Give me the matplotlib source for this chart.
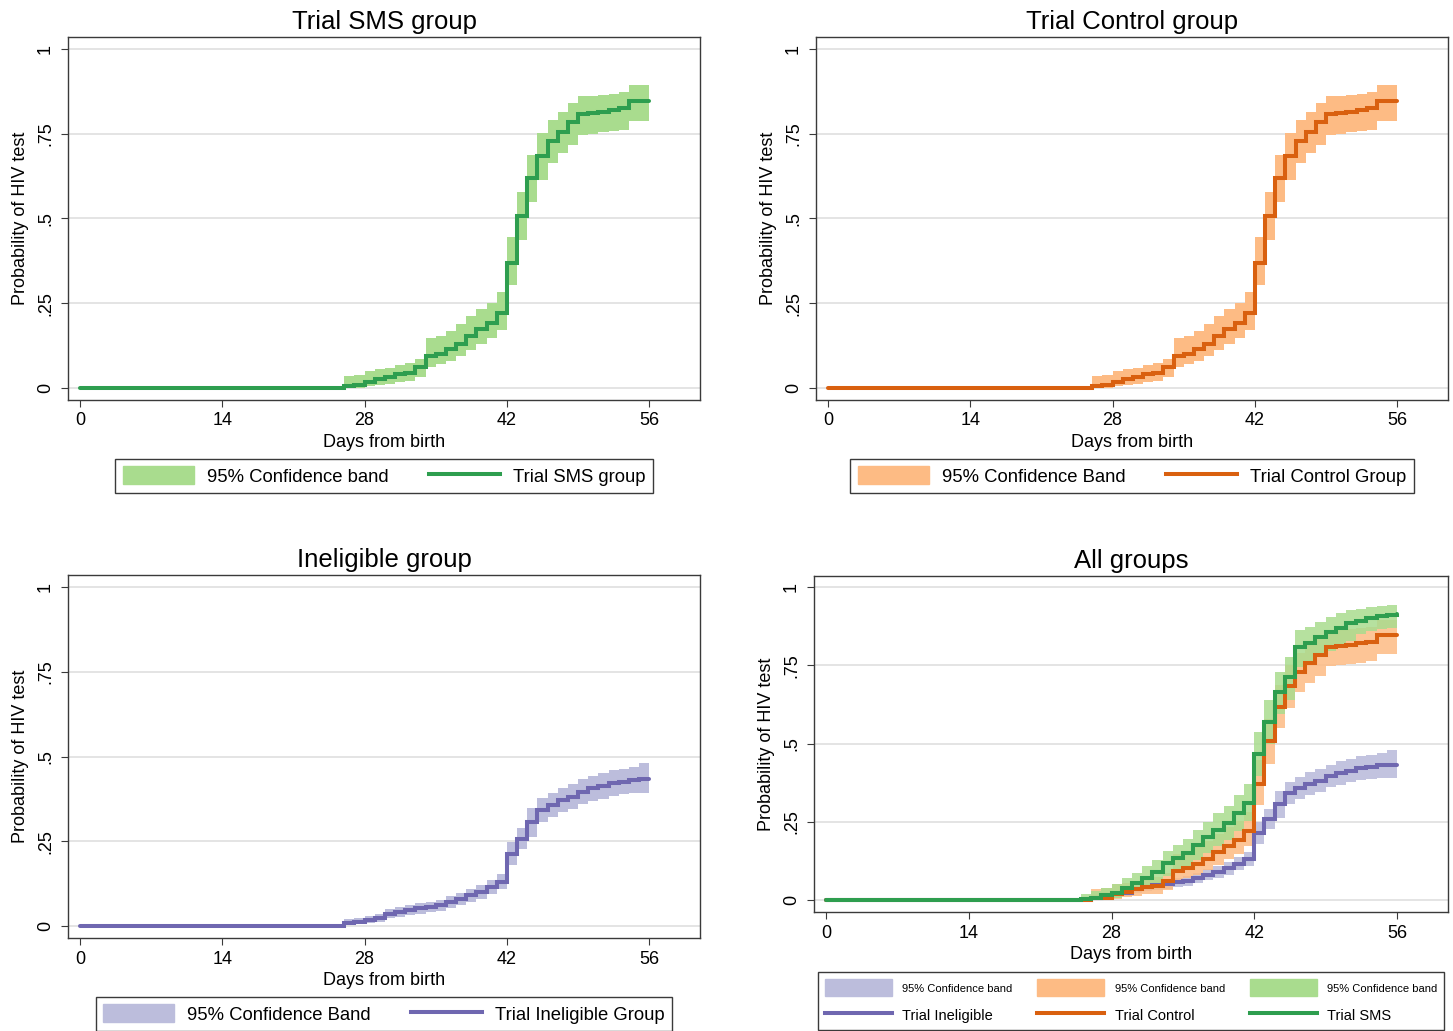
import matplotlib
matplotlib.use("Agg")
import matplotlib.pyplot as plt
from matplotlib.patches import Patch
from matplotlib.lines import Line2D

plt.rcParams["font.family"] = ["Liberation Sans", "DejaVu Sans"]

# Days from birth (step positions), first point is birth
DAYS = [0] + list(range(25, 57))

# Trial control group (also shown in the "Trial SMS group" panel)
CONTROL_EST = [0, 0, 0.006, 0.008, 0.019, 0.026, 0.034, 0.041, 0.045, 0.061, 0.094,
               0.102, 0.114, 0.131, 0.153, 0.173, 0.193, 0.220, 0.370, 0.507, 0.618,
               0.684, 0.727, 0.756, 0.783, 0.807, 0.812, 0.815, 0.820, 0.825, 0.845,
               0.845, 0.845]
CONTROL_LO = [0, 0, 0.0, 0.0, 0.005, 0.010, 0.013, 0.018, 0.020, 0.032, 0.062,
              0.070, 0.080, 0.095, 0.112, 0.130, 0.148, 0.172, 0.304, 0.436, 0.549,
              0.614, 0.663, 0.692, 0.717, 0.746, 0.750, 0.754, 0.758, 0.762, 0.786,
              0.786, 0.786]
CONTROL_HI = [0, 0, 0.035, 0.038, 0.050, 0.055, 0.060, 0.068, 0.075, 0.085, 0.147,
              0.155, 0.168, 0.188, 0.212, 0.232, 0.252, 0.282, 0.446, 0.579, 0.687,
              0.751, 0.790, 0.815, 0.840, 0.860, 0.862, 0.865, 0.868, 0.872, 0.894,
              0.894, 0.894]

# Trial SMS group (only in the "All groups" panel)
SMS_EST = [0, 0.003, 0.008, 0.016, 0.023, 0.040, 0.055, 0.072, 0.090, 0.117, 0.133,
           0.149, 0.176, 0.200, 0.224, 0.247, 0.277, 0.311, 0.466, 0.570, 0.665,
           0.711, 0.809, 0.822, 0.839, 0.857, 0.870, 0.884, 0.892, 0.900, 0.908,
           0.911, 0.914]
SMS_LO = [0, 0, 0.001, 0.004, 0.007, 0.018, 0.028, 0.040, 0.055, 0.078, 0.092,
          0.105, 0.128, 0.150, 0.172, 0.193, 0.220, 0.252, 0.395, 0.500, 0.595,
          0.640, 0.745, 0.760, 0.778, 0.797, 0.812, 0.828, 0.850, 0.858, 0.865,
          0.868, 0.870]
SMS_HI = [0, 0.020, 0.030, 0.040, 0.050, 0.070, 0.088, 0.108, 0.128, 0.158, 0.176,
          0.195, 0.225, 0.250, 0.277, 0.302, 0.335, 0.372, 0.537, 0.640, 0.730,
          0.775, 0.862, 0.873, 0.888, 0.905, 0.916, 0.928, 0.930, 0.935, 0.940,
          0.942, 0.942]

# Trial ineligible group
INELIG_EST = [0, 0, 0.008, 0.013, 0.018, 0.023, 0.037, 0.042, 0.047, 0.052, 0.057,
              0.061, 0.071, 0.081, 0.091, 0.101, 0.116, 0.130, 0.214, 0.258, 0.308,
              0.342, 0.357, 0.372, 0.381, 0.396, 0.406, 0.413, 0.421, 0.426, 0.430,
              0.433, 0.433]
INELIG_LO = [0, 0, 0.002, 0.005, 0.008, 0.012, 0.024, 0.028, 0.033, 0.037, 0.041,
             0.045, 0.054, 0.063, 0.072, 0.081, 0.095, 0.108, 0.180, 0.228, 0.263,
             0.308, 0.322, 0.336, 0.345, 0.360, 0.369, 0.376, 0.383, 0.388, 0.391,
             0.391, 0.391]
INELIG_HI = [0, 0, 0.020, 0.025, 0.030, 0.035, 0.050, 0.056, 0.062, 0.067, 0.072,
             0.078, 0.088, 0.099, 0.110, 0.121, 0.137, 0.153, 0.249, 0.290, 0.347,
             0.377, 0.392, 0.408, 0.418, 0.433, 0.443, 0.450, 0.459, 0.464, 0.470,
             0.480, 0.480]

XTICKS = [0, 14, 28, 42, 56]
YTICKS = [0, 0.25, 0.5, 0.75, 1]
YTICK_LABELS = ["0", ".25", ".5", ".75", "1"]

GREEN, GREEN_BAND = "#2e9e4f", "#a9dc8e"
ORANGE, ORANGE_BAND = "#d9600f", "#fdbb84"
PURPLE, PURPLE_BAND = "#6f67b0", "#bcbddc"
SPINE = "#3a3a3a"
LW = 2.9

W, H = 1453, 1031
fig = plt.figure(figsize=(W / 100, H / 100), dpi=100)


def add_axes(left, top, right, bottom):
    return fig.add_axes([left / W, 1 - bottom / H, (right - left) / W, (bottom - top) / H])


def style_axes(ax, title, ylim):
    ax.set_xlim(-1.18, 61.0)
    ax.set_ylim(*ylim)
    ax.set_xticks(XTICKS)
    ax.set_yticks(YTICKS)
    ax.set_yticklabels(YTICK_LABELS, rotation=90, va="center")
    ax.grid(axis="y", color="#dcdcdc", lw=1.1)
    ax.set_axisbelow(True)
    for s in ax.spines.values():
        s.set_color(SPINE)
        s.set_linewidth(1)
    ax.tick_params(direction="out", length=5, color=SPINE, labelsize=13, pad=4)
    ax.tick_params(axis="y", pad=5)
    ax.set_title(title, fontsize=18.5, pad=6)
    ax.set_xlabel("Days from birth", fontsize=13, labelpad=3)
    ax.set_ylabel("Probability of HIV test", fontsize=13, labelpad=6)


def draw_band(ax, lo, hi, band_color, alpha=1.0):
    ax.fill_between(DAYS, lo, hi, step="post", color=band_color, lw=0, alpha=alpha)


def draw_line(ax, est, line_color):
    ax.plot(DAYS, est, drawstyle="steps-post", color=line_color, lw=LW,
            solid_capstyle="round", solid_joinstyle="miter")


def panel_legend(handles, labels, cx, top, fontsize=13.3, ncol=2, **kw):
    opts = dict(loc="upper center", bbox_to_anchor=(cx / W, 1 - top / H),
                bbox_transform=fig.transFigure, ncol=ncol, fontsize=fontsize,
                frameon=True, fancybox=False, edgecolor=SPINE, framealpha=1,
                borderpad=0.4, handlelength=3.85, handleheight=1.1,
                handletextpad=0.7, columnspacing=2.2, borderaxespad=0)
    opts.update(kw)
    leg = fig.legend(handles, labels, **opts)
    leg.get_frame().set_linewidth(1)
    return leg


YLIM_TOP = (-0.035, 1.035)
YLIM_ALL = (-0.038, 1.035)

# Top left: Trial SMS group
ax1 = add_axes(68, 37, 700, 400)
draw_band(ax1, CONTROL_LO, CONTROL_HI, GREEN_BAND)
draw_line(ax1, CONTROL_EST, GREEN)
style_axes(ax1, "Trial SMS group", YLIM_TOP)
panel_legend([Patch(color=GREEN_BAND), Line2D([], [], color=GREEN, lw=LW)],
             ["95% Confidence band", "Trial SMS group"], 384, 459)

# Top right: Trial Control group
ax2 = add_axes(816, 37, 1448, 400)
draw_band(ax2, CONTROL_LO, CONTROL_HI, ORANGE_BAND)
draw_line(ax2, CONTROL_EST, ORANGE)
style_axes(ax2, "Trial Control group", YLIM_TOP)
panel_legend([Patch(color=ORANGE_BAND), Line2D([], [], color=ORANGE, lw=LW)],
             ["95% Confidence Band", "Trial Control Group"], 1132, 459)

# Bottom left: Ineligible group
ax3 = add_axes(68, 575, 700, 938)
draw_band(ax3, INELIG_LO, INELIG_HI, PURPLE_BAND)
draw_line(ax3, INELIG_EST, PURPLE)
style_axes(ax3, "Ineligible group", YLIM_TOP)
panel_legend([Patch(color=PURPLE_BAND), Line2D([], [], color=PURPLE, lw=LW)],
             ["95% Confidence Band", "Trial Ineligible Group"], 384, 997)

# Bottom right: All groups
ax4 = add_axes(814, 576, 1448, 912)
draw_band(ax4, INELIG_LO, INELIG_HI, PURPLE_BAND, alpha=0.9)
draw_band(ax4, CONTROL_LO, CONTROL_HI, ORANGE_BAND, alpha=0.85)
draw_band(ax4, SMS_LO, SMS_HI, GREEN_BAND, alpha=0.85)
draw_line(ax4, INELIG_EST, PURPLE)
draw_line(ax4, CONTROL_EST, ORANGE)
draw_line(ax4, SMS_EST, GREEN)
style_axes(ax4, "All groups", YLIM_ALL)

handles = [Patch(color=PURPLE_BAND), Line2D([], [], color=PURPLE, lw=LW),
           Patch(color=ORANGE_BAND), Line2D([], [], color=ORANGE, lw=LW),
           Patch(color=GREEN_BAND), Line2D([], [], color=GREEN, lw=LW)]
labels = ["95% Confidence band", "Trial Ineligible",
          "95% Confidence band", "Trial Control",
          "95% Confidence band", "Trial SMS"]
leg4 = panel_legend(handles, labels, 1131, 972, fontsize=10.5, ncol=3,
                    handlelength=4.6, handleheight=1.45, handletextpad=0.7,
                    columnspacing=1.7, labelspacing=0.7, borderpad=0.45)
for i, t in enumerate(leg4.get_texts()):
    if i % 2 == 0:
        t.set_fontsize(8)

fig.savefig("out.png", dpi=100)
